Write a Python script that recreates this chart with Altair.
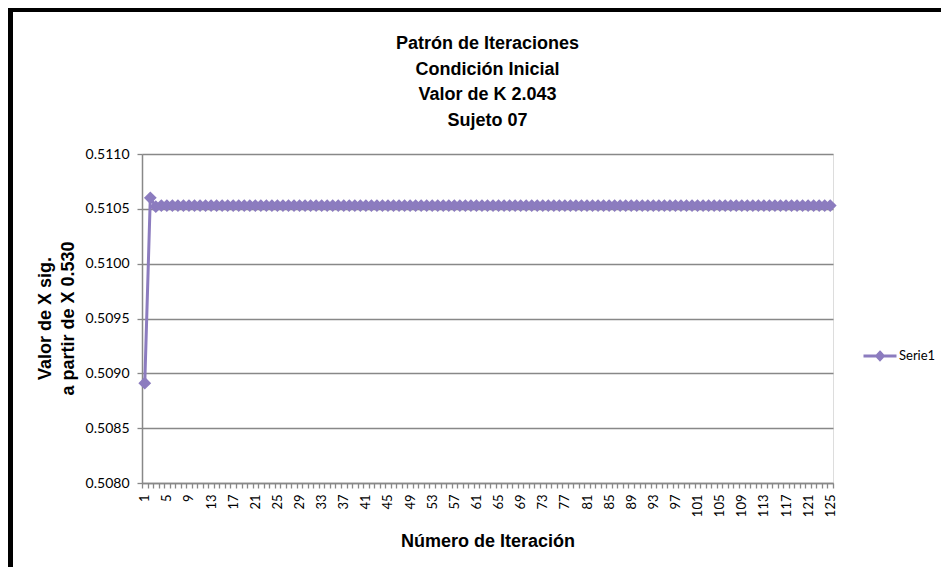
import altair as alt
import pandas as pd

# ---- data ----
iteraciones = list(range(1, 126))
valores = [
    0.50891, 0.51060, 0.51052, 0.51053, 0.51053, 0.51053, 0.51053, 0.51053, 0.51053, 0.51053,
    0.51053, 0.51053, 0.51053, 0.51053, 0.51053, 0.51053, 0.51053, 0.51053, 0.51053, 0.51053,
    0.51053, 0.51053, 0.51053, 0.51053, 0.51053, 0.51053, 0.51053, 0.51053, 0.51053, 0.51053,
    0.51053, 0.51053, 0.51053, 0.51053, 0.51053, 0.51053, 0.51053, 0.51053, 0.51053, 0.51053,
    0.51053, 0.51053, 0.51053, 0.51053, 0.51053, 0.51053, 0.51053, 0.51053, 0.51053, 0.51053,
    0.51053, 0.51053, 0.51053, 0.51053, 0.51053, 0.51053, 0.51053, 0.51053, 0.51053, 0.51053,
    0.51053, 0.51053, 0.51053, 0.51053, 0.51053, 0.51053, 0.51053, 0.51053, 0.51053, 0.51053,
    0.51053, 0.51053, 0.51053, 0.51053, 0.51053, 0.51053, 0.51053, 0.51053, 0.51053, 0.51053,
    0.51053, 0.51053, 0.51053, 0.51053, 0.51053, 0.51053, 0.51053, 0.51053, 0.51053, 0.51053,
    0.51053, 0.51053, 0.51053, 0.51053, 0.51053, 0.51053, 0.51053, 0.51053, 0.51053, 0.51053,
    0.51053, 0.51053, 0.51053, 0.51053, 0.51053, 0.51053, 0.51053, 0.51053, 0.51053, 0.51053,
    0.51053, 0.51053, 0.51053, 0.51053, 0.51053, 0.51053, 0.51053, 0.51053, 0.51053, 0.51053,
    0.51053, 0.51053, 0.51053, 0.51053, 0.51053,
]
serie = ["Serie1"] * len(iteraciones)
y_ticks = [0.5080, 0.5085, 0.5090, 0.5095, 0.5100, 0.5105, 0.5110]
titulo = ["Patrón de Iteraciones", "Condición Inicial", "Valor de K 2.043", "Sujeto 07"]
titulo_y = ["Valor de X sig.", "a partir de X 0.530"]
titulo_x = "Número de Iteración"

df = pd.DataFrame({"iteracion": iteraciones, "valor": valores, "serie": serie})

COLOR = "#8c7cbf"
GRID = "#888888"
FT = "Liberation Sans"
FL = "Lato"

x_enc = alt.X(
    "iteracion:O",
    bandPosition=0.5,
    scale=alt.Scale(type="band", paddingInner=0, paddingOuter=0),
    axis=alt.Axis(
        title=titulo_x,
        titleFont=FT, titleFontSize=18, titleFontWeight="bold", titleColor="black",
        titleY=58, titleBaseline="middle",
        labelAngle=270, labelFont=FL, labelFontSize=13, labelColor="black",
        labelExpr="(datum.value - 1) % 4 == 0 ? datum.label : ''",
        labelOverlap=False, labelPadding=6,
        tickBand="extent", tickSize=5, tickColor=GRID, tickWidth=1.3,
        domainColor=GRID, domainWidth=1.5, grid=False,
    ),
)
y_enc = alt.Y(
    "valor:Q",
    scale=alt.Scale(domain=[0.5080, 0.5110], nice=False, zero=False),
    axis=alt.Axis(
        values=y_ticks, format=".4f",
        title=titulo_y,
        titleFont=FT, titleFontSize=18, titleFontWeight="bold", titleColor="black",
        titleAngle=270, titleX=-97, titleY=164, titleBaseline="middle", titleAlign="center",
        titleLineHeight=23,
        labelFont=FL, labelFontSize=14, labelColor="black", labelPadding=8,
        tickSize=5, tickColor=GRID, tickWidth=1.3,
        domainColor=GRID, domainWidth=1.5,
        grid=True, gridColor=GRID, gridWidth=1.5,
    ),
)

line = alt.Chart(df).mark_line(color=COLOR, strokeWidth=3).encode(x=x_enc, y=y_enc)

points = alt.Chart(df).mark_point(
    shape="diamond", filled=True, size=100, opacity=1, stroke=COLOR, strokeWidth=2
).encode(
    x=x_enc,
    y=y_enc,
    color=alt.Color(
        "serie:N",
        scale=alt.Scale(domain=["Serie1"], range=[COLOR]),
        legend=alt.Legend(
            title=None, orient="none", legendX=720, legendY=184,
            symbolType="M-1,0L1,0M0,-0.22L0.2,0L0,0.22L-0.2,0Z",
            symbolSize=1089, symbolStrokeColor=COLOR, symbolStrokeWidth=3,
            symbolFillColor=COLOR, symbolOpacity=1,
            labelFont=FL, labelFontSize=13, labelColor="black", labelOffset=1,
        ),
    ),
)

frame_df = pd.DataFrame({"k": [0]})
top_rule = alt.Chart(frame_df).mark_rule(color="black", strokeWidth=5).encode(
    x=alt.value(-134), x2=alt.value(800), y=alt.value(-144.5)
)
left_rule = alt.Chart(frame_df).mark_rule(color="black", strokeWidth=5).encode(
    x=alt.value(-131.5), y=alt.value(-147), y2=alt.value(420)
)

chart = alt.layer(line, points, top_rule, left_rule).properties(
    width=691,
    height=329,
    title=alt.Title(
        titulo, font=FT, fontSize=18, fontWeight="bold", color="black",
        lineHeight=25.5, anchor="middle", frame="group", offset=-125,
    ),
    autosize=alt.AutoSizeParams(type="none"),
    padding={"left": 134, "top": 146, "right": 108, "bottom": 84},
).configure_view(stroke=None).configure(background="white")

chart.save("out.html", embed_options={"renderer": "svg", "actions": False})
